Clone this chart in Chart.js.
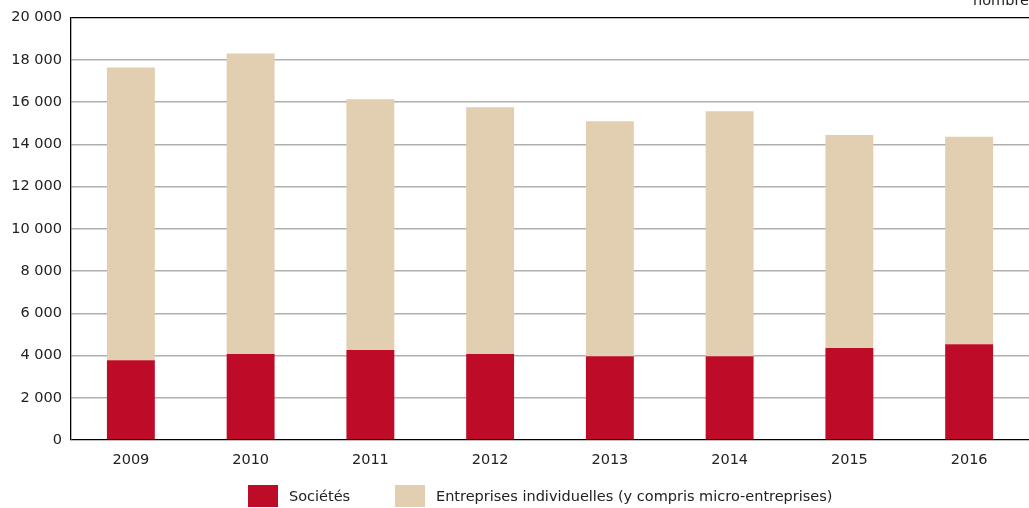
<!DOCTYPE html>
<html>
<head>
<meta charset="utf-8">
<script src="https://cdn.jsdelivr.net/npm/chart.js@4/dist/chart.umd.min.js"></script>
<style>
  html, body { margin: 0; padding: 0; background: #fff; }
  #wrap { position: relative; width: 1029px; height: 508px; overflow: hidden; font-family: "DejaVu Sans", sans-serif; }
  #unit { position: absolute; right: 0; top: -7px; font-size: 14.5px; line-height: 14px; color: #222; }
  .lg { position: absolute; top: 485px; height: 22px; font-size: 14.5px; color: #222; }
  .lg .box { position: absolute; left: 0; top: 0; width: 30px; height: 22px; }
  .lg .txt { position: absolute; left: 41px; top: 3px; white-space: nowrap; line-height: 16px; }
</style>
</head>
<body>
<div id="wrap">
  <canvas id="c" width="1029" height="508"></canvas>
  <div id="unit">nombre</div>
  <div id="legend"></div>
</div>
<script>
const categories = ["2009", "2010", "2011", "2012", "2013", "2014", "2015", "2016"];
const societes = [3780, 4070, 4260, 4070, 3970, 3970, 4360, 4540];
const individuelles = [13860, 14230, 11880, 11690, 11130, 11600, 10090, 9820];
const seriesNames = ["Sociétés", "Entreprises individuelles (y compris micro-entreprises)"];
const seriesColors = ["#BE0B28", "#E2CEB0"];
const yTicks = [0, 2000, 4000, 6000, 8000, 10000, 12000, 14000, 16000, 18000, 20000];

function fmt(v) {
  return String(v).replace(/\B(?=(\d{3})+(?!\d))/g, " ");
}

const FONT = { family: "'DejaVu Sans', sans-serif", size: 14.5 };

new Chart(document.getElementById("c"), {
  type: "bar",
  data: {
    labels: categories,
    datasets: [
      { label: seriesNames[0], data: societes, backgroundColor: seriesColors[0] },
      { label: seriesNames[1], data: individuelles, backgroundColor: seriesColors[1] }
    ]
  },
  options: {
    responsive: false,
    animation: false,
    layout: { padding: { top: 14, right: 0, bottom: 33, left: 0 } },
    plugins: { legend: { display: false }, tooltip: { enabled: false } },
    datasets: { bar: { barPercentage: 0.4, categoryPercentage: 1.0, borderWidth: 0 } },
    scales: {
      x: {
        stacked: true,
        grid: { display: false, drawTicks: false },
        border: { display: false },
        ticks: { color: "#222", font: FONT, padding: 12, maxRotation: 0 },
        afterFit: (s) => { s.height = 35; }
      },
      y: {
        stacked: true,
        min: 0, max: 20000,
        afterBuildTicks: (s) => { s.ticks = yTicks.map(v => ({ value: v })); },
        grid: {
          drawTicks: false,
          color: (ctx) => ctx.tick && (ctx.tick.value === 20000 || ctx.tick.value === 0) ? "#000" : "#b0b0b0",
          lineWidth: (ctx) => ctx.tick && (ctx.tick.value === 20000 || ctx.tick.value === 0) ? 1.3 : 1.5
        },
        border: { display: true, color: "#000", width: 1.3 },
        ticks: { color: "#222", font: FONT, padding: 9, callback: (v) => fmt(v) },
        afterFit: (s) => { s.width = 71; }
      }
    }
  }
});

const legendLeft = [248, 395];
const lg = document.getElementById("legend");
seriesNames.forEach((name, i) => {
  const d = document.createElement("div");
  d.className = "lg";
  d.style.left = legendLeft[i] + "px";
  const b = document.createElement("div");
  b.className = "box";
  b.style.background = seriesColors[i];
  const t = document.createElement("div");
  t.className = "txt";
  t.textContent = name;
  d.appendChild(b); d.appendChild(t);
  lg.appendChild(d);
});
</script>
</body>
</html>
